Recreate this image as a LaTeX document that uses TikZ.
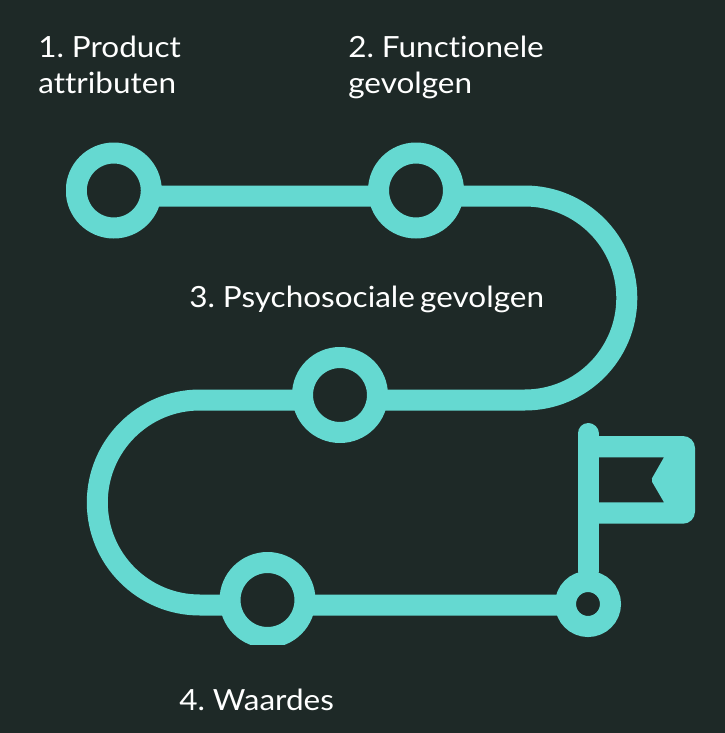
\documentclass[tikz,border=0pt]{standalone}
\usepackage{xcolor}
\usepackage{fontspec}
\setmainfont[FakeStretch=1.08,Ligatures=NoCommon,WordSpace=0.65]{Lato}
\usetikzlibrary{backgrounds}
\definecolor{night}{HTML}{1E2927}
\definecolor{teal}{HTML}{65D9D1}
\tikzstyle{ring}=[circle,draw=teal,fill=night,line width=0.42cm,minimum size=1.5cm,inner sep=0pt]
\tikzstyle{smallring}=[circle,draw=teal,fill=night,line width=0.42cm,minimum size=0.9cm,inner sep=0pt]
\tikzstyle{road} = [draw=teal,line width=0.42cm]
\tikzset{caption/.style={anchor=north west,inner sep=0pt,align=left,text=white,font=\fontsize{16.6}{20.4}\selectfont}}

\begin{document}
\begin{tikzpicture}

  \def\u{0.02};

  \begin{pgfonlayer}{background}
  \fill[night] (0,0) rectangle (725*\u,-733*\u);
  \end{pgfonlayer}

  \begin{scope}
  \clip (66*\u,0) rectangle (725*\u,-644*\u);

  \foreach \x/\y/\name in {113.8/190.5/stopA, 416/190.5/stopB, 340/395/stopC, 267.5/600/stopD}
          \node[ring] (\name) at (\x*\u, -\y*\u) {};

  \node[smallring] (flagfoot) at (588*\u, -604*\u) {};
  \coordinate (poletop) at (588*\u, -433.5*\u);

  \begin{pgfonlayer}{background}
  \path[road] (stopA.center) ++(0,-5.5*\u) -- ++(411*\u,0) arc[start angle=90,end angle=-90,radius=102*\u]
       -- ++(-325*\u,0) arc[start angle=90,end angle=270,radius=102.5*\u] -- (flagfoot.center |- 0,-605*\u);
  \path[road,line cap=round] (flagfoot) -- (poletop);
  \end{pgfonlayer}
  \end{scope}

  % flag
  \fill[teal,even odd rule] (590*\u,-436*\u) [rounded corners=0.24cm] -- (695*\u,-436*\u) -- (695*\u,-523.7*\u) [sharp corners] -- (590*\u,-523.7*\u) -- cycle
       (598.3*\u,-457.3*\u) -- (664*\u,-457.3*\u) [rounded corners=0.04cm] -- (651*\u,-480*\u) [sharp corners] -- (664*\u,-502.3*\u) -- (598.3*\u,-502.3*\u) -- cycle;

  \foreach \x/\y/\name/\label in {38/36/first/{1. Product\\attributen}, 348/36/second/{2. Functionele\\gevolgen}, 189/286/third/{3. Psychosociale gevolgen}, 179/689/fourth/{4. Waardes}}
          \node[caption] (\name) at (\x*\u, -\y*\u) {\label};

\end{tikzpicture}
\end{document}
